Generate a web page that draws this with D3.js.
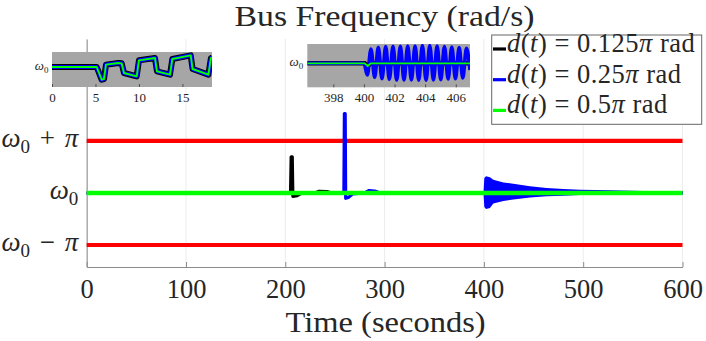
<!DOCTYPE html>
<html><head><meta charset="utf-8">
<script src="https://cdn.jsdelivr.net/npm/d3@7/dist/d3.min.js"></script>
<style>
html,body{margin:0;padding:0;background:#fff;}
svg{display:block;}
text{font-family:"Liberation Serif","Times New Roman",serif;fill:#262626;}
</style></head><body>
<svg id="chart" width="706" height="341"></svg>
<script>
// ---------------- data ----------------
const xTicks = [0, 100, 200, 300, 400, 500, 600];
const yTickValues = [-Math.PI, 0, Math.PI];
const yTickOps = ["−", "", "+"];          // ω0 − π, ω0, ω0 + π

const limitT = [0, 600];
const limitUpper = [Math.PI, Math.PI];
const limitLower = [-Math.PI, -Math.PI];

// d(t) = 0.125π rad
const blackT = [0, 205.3, 205.9, 207.0, 207.6, 212, 216, 230, 234, 242, 247, 600];
const blackV = [0, 0, 2.18, 2.18, -0.20, -0.16, -0.02, 0, 0.10, 0.09, 0, 0];
// d(t) = 0.25π rad
const blueT = [0, 259.0, 259.5, 260.3, 260.8, 264, 268, 280, 284, 290, 296, 600];
const blueV = [0, 0, 4.80, 4.80, -0.32, -0.25, -0.05, 0, 0.14, 0.12, 0, 0];
// blue oscillation envelope after t = 400 s
const envT  = [399.6, 400.4, 402.1, 406.1, 409.5, 419.6, 429.6, 446.4, 463.2, 480, 496.8, 527, 560, 600];
const envHi = [0, 0.90, 1.01, 0.95, 0.80, 0.64, 0.56, 0.40, 0.30, 0.24, 0.20, 0.16, 0.12, 0.10];
const envLo = [0, -0.85, -0.97, -0.90, -0.64, -0.48, -0.40, -0.28, -0.20, -0.16, -0.12, -0.10, -0.08, -0.06];
// d(t) = 0.5π rad
const greenT = [0, 600];
const greenV = [0, 0];

// inset 1 (t = 0 … 18 s)
const inset1Ticks = [0, 5, 10, 15];
const inset1T = [0, 5.14, 5.71, 5.98, 6.21, 7.63, 8.01, 8.28, 9.74, 10.0, 11.84, 12.07, 13.57, 13.84, 15.95, 16.17, 17.98, 18.28, 18.4];
const inset1V = [0, 0, -0.38, -0.36, 0.07, 0.12, 0.11, -0.18, -0.28, 0.20, 0.27, -0.13, -0.23, 0.24, 0.35, -0.06, -0.23, 0.27, 0.28];

// inset 2 (t = 396 … 407 s)
const inset2Ticks = [398, 400, 402, 404, 406];
const inset2FlatT = [396.3, 400.05, 400.25, 400.45, 406.93];
const inset2FlatV = [0, 0, -0.08, 0, 0];
const inset2BlueT = [396.3, 400.0, 400.22, 400.46, 400.70, 400.94, 401.18, 401.42, 401.66, 401.90, 402.14, 402.38, 402.62, 402.86, 403.10, 403.34, 403.58, 403.82, 404.06, 404.30, 404.54, 404.78, 405.02, 405.26, 405.50, 405.74, 405.98, 406.22, 406.46, 406.70, 406.93];
const inset2BlueV = [0, 0, -0.35, 0.43, -0.42, 0.48, -0.46, 0.50, -0.48, 0.51, -0.50, 0.51, -0.50, 0.52, -0.50, 0.52, -0.51, 0.53, -0.51, 0.53, -0.50, 0.52, -0.49, 0.50, -0.47, 0.49, -0.46, 0.47, -0.44, 0.45, -0.20];

const legendValues = ["0.125", "0.25", "0.5"];
const seriesColors = ["#000000", "#0000ff", "#00ff00"];

// ---------------- drawing ----------------
const FONT = '"Liberation Serif","Times New Roman",serif';
const svg = d3.select("#chart");
const x = d3.scaleLinear().domain([0, 600]).range([86.7, 682.5]);
const y = d3.scaleLinear().domain([-4.47, 9.30]).range([267, 39]);
const AX = "#8c8c8c";

// grid
svg.append("g").selectAll("line").data(xTicks).join("line")
  .attr("x1", d => x(d)).attr("x2", d => x(d))
  .attr("y1", y.range()[1]).attr("y2", y.range()[0])
  .attr("stroke", "#ececec").attr("stroke-width", 1);

// x axis
const gx = svg.append("g").attr("transform", `translate(0,${y.range()[0]})`)
  .call(d3.axisBottom(x).tickValues(xTicks).tickSizeInner(-5).tickSizeOuter(0).tickPadding(0))
  .attr("font-family", FONT);
gx.select(".domain").attr("stroke", AX);
gx.selectAll(".tick line").attr("stroke", AX);
gx.selectAll(".tick text").attr("y", 31).attr("dy", null).attr("font-size", 26.5);

// y axis
const gy = svg.append("g").attr("transform", `translate(${x(0)},0)`)
  .call(d3.axisLeft(y).tickValues(yTickValues).tickSizeInner(-5).tickSizeOuter(0).tickFormat(() => ""))
  .attr("font-family", FONT);
gy.select(".domain").attr("stroke", AX);
gy.selectAll(".tick line").attr("stroke", AX);
gy.selectAll(".tick text").each(function(d, i) {
  const t = d3.select(this);
  t.text(null).attr("x", -8.4).attr("dy", "0.21em").attr("font-size", 27).attr("text-anchor", "end");
  t.append("tspan").attr("font-style", "italic").text("ω");
  t.append("tspan").attr("font-size", 19).attr("dy", 6).text("0");
  if (yTickOps[i]) {
    t.append("tspan").attr("dy", -6).attr("dx", 3).text("\u00a0" + yTickOps[i] + "\u00a0");
    t.append("tspan").attr("dx", 3).attr("font-style", "italic").text("π");
  }
});

const line = (xs, ys) => d3.line().x(d => xs(d[0])).y(d => ys(d[1]));
const zip = (a, b) => a.map((v, i) => [v, b[i]]);

// red limits
[limitUpper, limitLower].forEach(lim => {
  svg.append("path").attr("d", line(x, y)(zip(limitT, lim)))
    .attr("fill", "none").attr("stroke", "#ff0000").attr("stroke-width", 4.2);
});

// black
svg.append("path").attr("d", line(x, y)(zip(blackT, blackV)))
  .attr("fill", "none").attr("stroke", seriesColors[0]).attr("stroke-width", 3.2).attr("stroke-linejoin", "round");
// blue envelope + line
svg.append("path").attr("d", d3.area().x(d => x(d[0])).y0(d => y(d[2])).y1(d => y(d[1]))
    (envT.map((t, i) => [t, envHi[i], envLo[i]])))
  .attr("fill", seriesColors[1]);
svg.append("path").attr("d", line(x, y)(zip(blueT, blueV)))
  .attr("fill", "none").attr("stroke", seriesColors[1]).attr("stroke-width", 3.2).attr("stroke-linejoin", "round");
// green
svg.append("path").attr("d", line(x, y)(zip(greenT, greenV)))
  .attr("fill", "none").attr("stroke", seriesColors[2]).attr("stroke-width", 4.6);

// ---------- insets ----------
function inset(id, xs, ys, ticks, labelX) {
  const g = svg.append("g");
  const [x0, x1] = xs.range(), [y0, y1] = ys.range();
  g.append("clipPath").attr("id", id).append("rect")
    .attr("x", x0).attr("y", y1).attr("width", x1 - x0).attr("height", y0 - y1);
  g.append("rect").attr("x", x0).attr("y", y1).attr("width", x1 - x0).attr("height", y0 - y1)
    .attr("fill", "#a6a6a6");
  const ax = g.append("g").attr("transform", `translate(0,${y0})`)
    .call(d3.axisBottom(xs).tickValues(ticks).tickSizeInner(-3).tickSizeOuter(0).tickPadding(0))
    .attr("font-family", FONT);
  ax.select(".domain").remove();
  ax.selectAll(".tick line").attr("stroke", "#4d4d4d");
  ax.selectAll(".tick text").attr("y", 14.5).attr("dy", null).attr("font-size", 13);
  const ay = g.append("g").attr("transform", `translate(${x0},0)`)
    .call(d3.axisLeft(ys).tickValues([0]).tickSizeInner(0).tickSizeOuter(0).tickFormat(() => ""))
    .attr("font-family", FONT);
  ay.select(".domain").remove();
  ay.selectAll(".tick text").each(function() {
    const t = d3.select(this);
    t.text(null).attr("x", labelX).attr("dy", "0.2em").attr("font-size", 13).attr("text-anchor", "end");
    t.append("tspan").attr("font-style", "italic").text("ω");
    t.append("tspan").attr("font-size", 9).attr("dy", 3).text("0");
  });
  return g.append("g").attr("clip-path", `url(#${id})`);
}

const ix1 = d3.scaleLinear().domain([0, 18.4]).range([52, 212]);
const iy1 = d3.scaleLinear().domain([-0.60, 0.45]).range([87, 52]);
const p1 = inset("clip1", ix1, iy1, inset1Ticks, -3.5);
[[seriesColors[0], 6], [seriesColors[1], 4.2], [seriesColors[2], 1.9]].forEach(([c, w]) => {
  p1.append("path").attr("d", line(ix1, iy1)(zip(inset1T, inset1V)))
    .attr("fill", "none").attr("stroke", c).attr("stroke-width", w).attr("stroke-linejoin", "round");
});

const ix2 = d3.scaleLinear().domain([396.3, 406.93]).range([307.3, 470]);
const iy2 = d3.scaleLinear().domain([-0.72, 0.58]).range([87.3, 44]);
const p2 = inset("clip2", ix2, iy2, inset2Ticks, -4);
p2.append("path").attr("d", line(ix2, iy2)(zip(inset2FlatT, inset2FlatV)))
  .attr("fill", "none").attr("stroke", seriesColors[0]).attr("stroke-width", 4.5);
p2.append("path").attr("d", line(ix2, iy2).curve(d3.curveMonotoneX)(zip(inset2BlueT, inset2BlueV)))
  .attr("fill", "none").attr("stroke", seriesColors[1]).attr("stroke-width", 3.6).attr("stroke-linejoin", "round");
p2.append("path").attr("d", line(ix2, iy2)(zip(inset2FlatT, inset2FlatV)))
  .attr("fill", "none").attr("stroke", seriesColors[2]).attr("stroke-width", 1.8);

// ---------- legend ----------
const leg = svg.append("g");
leg.append("rect").attr("x", 491.7).attr("y", 35).attr("width", 210).attr("height", 89.3)
  .attr("fill", "#fff").attr("stroke", "#666").attr("stroke-width", 1);
legendValues.forEach((v, i) => {
  const by = 52 + i * 30.7;
  leg.append("line").attr("x1", 493).attr("x2", 506).attr("y1", by - 3).attr("y2", by - 3)
    .attr("stroke", seriesColors[i]).attr("stroke-width", 3.2);
  const t = leg.append("text").attr("x", 507).attr("y", by).attr("font-size", 26.5).attr("letter-spacing", 0.5);
  t.append("tspan").attr("font-style", "italic").text("d");
  t.append("tspan").text("(");
  t.append("tspan").attr("font-style", "italic").text("t");
  t.append("tspan").text(") = " + v);
  t.append("tspan").attr("font-style", "italic").text("π");
  t.append("tspan").text(" rad");
});

// ---------- titles ----------
svg.append("text").attr("x", (x.range()[0] + x.range()[1]) / 2).attr("y", 25.5)
  .attr("text-anchor", "middle").attr("font-size", 28.5)
  .attr("textLength", 300).attr("lengthAdjust", "spacingAndGlyphs")
  .text("Bus Frequency (rad/s)");
svg.append("text").attr("x", (x.range()[0] + x.range()[1]) / 2 + 1).attr("y", 331.5)
  .attr("text-anchor", "middle").attr("font-size", 28.5)
  .attr("textLength", 200).attr("lengthAdjust", "spacingAndGlyphs")
  .text("Time (seconds)");
</script>
</body></html>
